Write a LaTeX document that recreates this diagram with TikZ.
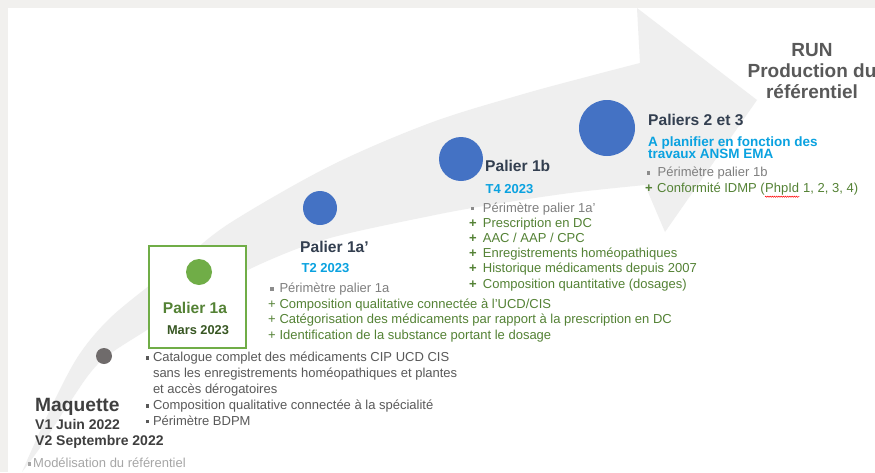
\documentclass[tikz,border=0pt]{standalone}
\usepackage{fontspec}
\setmainfont{Liberation Sans}
\usetikzlibrary{decorations.pathmorphing}
\definecolor{bordergrey}{HTML}{F1F0EE}
\definecolor{arrowgrey}{HTML}{EFEFEF}
\definecolor{slate}{HTML}{333F50}
\definecolor{skyblue}{HTML}{0AA2E0}
\definecolor{accblue}{HTML}{4472C4}
\definecolor{leafgreen}{HTML}{70AD47}
\definecolor{textgreen}{HTML}{548235}
\definecolor{darkgreen}{HTML}{385723}
\definecolor{midgrey}{HTML}{7F7F7F}
\definecolor{darkgrey}{HTML}{595959}
\definecolor{lightgrey}{HTML}{A6A6A6}
\definecolor{bulgrey}{HTML}{8C8C8C}
\definecolor{dotgrey}{HTML}{6F6B6B}
\definecolor{maqgrey}{HTML}{3F3F3F}
\newcommand{\sqb}[3]{\makebox[#1][l]{\hspace{#2}\textcolor{#3}{\rule[1.8pt]{3.6pt}{3.6pt}}}}
\newcommand{\plb}[2]{\makebox[#1][l]{#2}}
\begin{document}
\begin{tikzpicture}[x=1pt,y=-1pt,
  txt/.style={inner sep=0pt, anchor=base west},
  ctxt/.style={inner sep=0pt, anchor=base},
  lst/.style={font=\fontsize{13}{#1}\selectfont},
  palier/.style={font=\bfseries\fontsize{15.6}{18}\selectfont, text=slate},
  when/.style={font=\bfseries\fontsize{13}{15}\selectfont, text=skyblue},
  milestone/.style={circle, inner sep=0pt, minimum size=#1, fill=accblue}]
\useasboundingbox (0,0) rectangle (875,472);
\fill[bordergrey] (0,0) rectangle (875,472);
\fill[white] (8,8) rectangle (875,472);
% curved arrow
\fill[arrowgrey] plot[smooth, tension=0.55] coordinates {(22,472) (48,414) (77,358) (108,320) (150,285) (183,260) (230,223) (330,166) (430,123) (520,95) (590,76) (640,63)}
  -- (637,8) -- (757,100) -- (665,232) -- (645,185)
  -- plot[smooth, tension=0.55] coordinates {(645,185) (570,193) (490,205) (430,216) (330,238) (265,262) (200,295) (150,328) (100,362) (68,405) (42,445) (22,472)} -- cycle;
% milestones
\node[milestone=16pt, fill=dotgrey] (m0) at (104,356) {};
\node[draw=leafgreen, line width=2.5pt, fill=white, minimum width=97pt, minimum height=102pt, inner sep=0pt] (box1a) at (197.5,297) {};
\node[milestone=26pt, fill=leafgreen] (m1a) at (199,272) {};
\node[milestone=34pt] (m1ap) at (320,208) {};
\node[milestone=44pt] (m1b) at (461,159) {};
\node[milestone=56pt] (m23) at (607,128) {};
% RUN
\node[ctxt, font=\bfseries\fontsize{19}{21}\selectfont, text=darkgrey] (run) at (812,56.7)
  {\begin{tabular}[t]{@{}c@{}}RUN\\Production du\\référentiel\end{tabular}};
% Paliers 2 et 3
\node[txt, palier] (t23) at (648,125) {Paliers 2 et 3};
\node[txt, font=\bfseries\fontsize{13.5}{15}\selectfont, text=skyblue] (w23a) at (648,146) {A planifier en fonction des};
\node[txt, font=\bfseries\fontsize{13.5}{15}\selectfont, text=skyblue] (w23b) at (648,158.6) {travaux ANSM EMA};
\node[txt, lst=16, text=midgrey] (p23a) at (645,176.7) {\sqb{12.5pt}{1.5pt}{bulgrey}Périmètre palier 1b};
\node[txt, lst=16, text=textgreen] (p23b) at (645,192.7) {\plb{12pt}{\textbf{+}}Conformité IDMP (};
\node[txt, lst=16, text=textgreen] (p23c) at (p23b.base east) {PhpId};
\node[txt, lst=16, text=textgreen] (p23d) at (p23c.base east) {\ 1, 2, 3, 4)};
\draw[red, line width=0.5pt, decorate, decoration={snake, amplitude=0.6pt, segment length=2.2pt}]
  ([yshift=-4pt]p23c.base west) -- ([yshift=-4pt]p23c.base east);
% Palier 1b
\node[txt, palier] (t1b) at (485,171.7) {Palier 1b};
\node[txt, when] (w1b) at (485.5,193) {T4 2023};
\node[txt, lst=15.2, text=textgreen] (p1b) at (469,212)
  {\begin{tabular}[t]{@{}l@{}}
   \textcolor{midgrey}{\sqb{13.7pt}{1.5pt}{bulgrey}Périmètre palier 1a’}\\
   \plb{13.7pt}{\textbf{+}}Prescription en DC\\
   \plb{13.7pt}{\textbf{+}}AAC / AAP / CPC\\
   \plb{13.7pt}{\textbf{+}}Enregistrements homéopathiques\\
   \plb{13.7pt}{\textbf{+}}Historique médicaments depuis 2007\\
   \plb{13.7pt}{\textbf{+}}Composition quantitative (dosages)
   \end{tabular}};
% Palier 1a'
\node[txt, palier] (t1ap) at (300,252) {Palier 1a’};
\node[txt, when] (w1ap) at (301.5,272.7) {T2 2023};
\node[txt, lst=15.55, text=textgreen] (p1ap) at (268,292.7)
  {\begin{tabular}[t]{@{}l@{}}
   \textcolor{midgrey}{\sqb{11.3pt}{2pt}{bulgrey}Périmètre palier 1a}\\
   \plb{11.3pt}{+}Composition qualitative connectée à l’UCD/CIS\\
   \plb{11.3pt}{+}Catégorisation des médicaments par rapport à la prescription en DC\\
   \plb{11.3pt}{+}Identification de la substance portant le dosage
   \end{tabular}};
% Palier 1a (box)
\node[ctxt, font=\bfseries\fontsize{15.6}{18}\selectfont, text=textgreen] (t1a) at (195,313.3) {Palier 1a};
\node[ctxt, font=\bfseries\fontsize{12.8}{15}\selectfont, text=darkgreen] (w1a) at (198,334) {Mars 2023};
% Maquette
\node[txt, lst=15.9, text=darkgrey] (p0) at (145.5,361.6)
  {\begin{tabular}[t]{@{}l@{}}
   \sqb{7.3pt}{0pt}{darkgrey}Catalogue complet des médicaments CIP UCD CIS\\
   \hspace{7.3pt}sans les enregistrements homéopathiques et plantes\\
   \hspace{7.3pt}et accès dérogatoires\\
   \sqb{7.3pt}{0pt}{darkgrey}Composition qualitative connectée à la spécialité\\
   \sqb{7.3pt}{0pt}{darkgrey}Périmètre BDPM
   \end{tabular}};
\node[txt, font=\bfseries\fontsize{19.2}{22}\selectfont, text=maqgrey] (t0) at (35,411.7) {Maquette};
\node[txt, font=\bfseries\fontsize{14}{16}\selectfont, text=maqgrey] (w0a) at (35,429) {V1 Juin 2022};
\node[txt, font=\bfseries\fontsize{14}{16}\selectfont, text=maqgrey] (w0b) at (35,445) {V2 Septembre 2022};
\node[txt, lst=15, text=lightgrey] (p00) at (27.5,467.5) {\sqb{5.5pt}{0pt}{lightgrey}Modélisation du référentiel};
\end{tikzpicture}
\end{document}
